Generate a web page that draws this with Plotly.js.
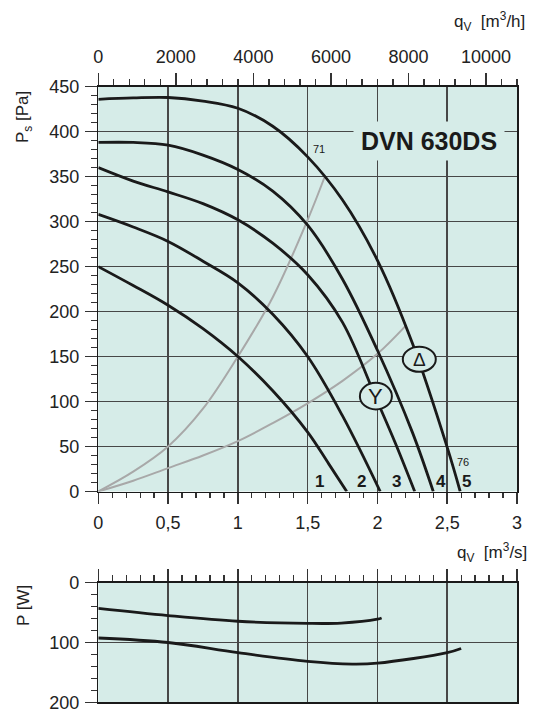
<!DOCTYPE html>
<html>
<head>
<meta charset="utf-8">
<script src="https://cdn.plot.ly/plotly-3.0.1.min.js"></script>
<style>
  html, body { margin: 0; padding: 0; background: #ffffff; }
  #chart { width: 533px; height: 713px; }
</style>
</head>
<body>
<div id="chart"></div>
<script>
// ---- data ----
// fan curves, q [m3/s] vs Ps [Pa]
const c1_q = [0, 0.25, 0.5, 0.75, 1.0, 1.25, 1.5, 1.65, 1.78];
const c1_p = [250, 229, 207, 181, 150, 112, 66, 31, 0];
const c2_q = [0, 0.25, 0.5, 0.75, 1.0, 1.25, 1.5, 1.75, 2.02];
const c2_p = [308, 294, 278, 256, 232, 197, 150, 84, 0];
const c3_q = [0, 0.25, 0.5, 0.75, 1.0, 1.25, 1.5, 1.75, 2.0, 2.125, 2.267];
const c3_p = [360, 345, 333, 320, 302, 276, 241, 188, 100, 55, 0];
const c4_q = [0, 0.25, 0.5, 0.75, 1.0, 1.25, 1.5, 1.75, 2.0, 2.25, 2.4];
const c4_p = [388, 388, 385, 374, 358, 334, 296, 236, 157, 66, 0];
const c5_q = [0, 0.25, 0.5, 0.75, 1.0, 1.25, 1.5, 1.75, 2.0, 2.25, 2.5, 2.593];
const c5_p = [436, 437.5, 438, 434, 426, 406, 372, 324, 257, 165, 49, 0];
// system curves (grey)
const sysA_q = [0, 0.25, 0.5, 0.75, 1.0, 1.25, 1.5, 1.625];
const sysA_p = [0, 22, 50, 92, 150, 216, 302, 351];
const sysB_q = [0, 0.25, 0.5, 0.75, 1.0, 1.25, 1.5, 1.75, 2.0, 2.207];
const sysB_p = [0, 12, 26, 40, 56, 76, 98, 123, 153, 185];
// power curves, q [m3/s] vs P [W]
const powY_q = [0, 0.5, 1.0, 1.5, 1.74, 2.0, 2.03];
const powY_w = [43, 55, 64.5, 68, 67.5, 61, 59];
const powD_q = [0, 0.5, 1.0, 1.5, 1.82, 2.0, 2.5, 2.6];
const powD_w = [92.5, 100, 117, 131.5, 136, 134.5, 117, 110];
// axis ticks
const qs_ticks = [0, 0.5, 1, 1.5, 2, 2.5, 3];
const qs_text = ['0', '0,5', '1', '1,5', '2', '2,5', '3'];
const qh_ticks = [0, 2000, 4000, 6000, 8000, 10000];
const qh_text = ['0', '2000', '4000', '6000', '8000', '10000'];
const ps_ticks = [0, 50, 100, 150, 200, 250, 300, 350, 400, 450];
const pw_ticks = [0, 100, 200];
const curveLabels = ['1', '2', '3', '4', '5'];
const Q_MAX = 3;              // m3/s
const Q_MAX_H = Q_MAX * 3600; // m3/h
const PS_MAX = 450;
const PW_MAX = 200;

// ---- styling ----
const W = 533, H = 713;
const BG = '#d6ece8';
const INK = '#1a1a1a';
const GRID = '#474747';
const FONT = 'Liberation Sans, Arial, Helvetica, sans-serif';
const tickFont = {family: FONT, size: 18, color: '#222'};

const xDom = [98.3 / W, 517 / W];
const yMainDom = [(H - 491.5) / H, (H - 86.7) / H];
const yPowDom = [(H - 702.3) / H, (H - 582.7) / H];

function blackCurve(q, p, xa, ya) {
  return {x: q, y: p, xaxis: xa, yaxis: ya, type: 'scatter', mode: 'lines',
    line: {color: INK, width: 2.8, shape: 'spline', smoothing: 1},
    hoverinfo: 'skip', showlegend: false};
}
function greyCurve(q, p) {
  return {x: q, y: p, xaxis: 'x', yaxis: 'y', type: 'scatter', mode: 'lines',
    line: {color: '#a8a8a8', width: 2, shape: 'spline', smoothing: 1},
    hoverinfo: 'skip', showlegend: false};
}

const traces = [
  greyCurve(sysA_q, sysA_p),
  greyCurve(sysB_q, sysB_p),
  blackCurve(c1_q, c1_p, 'x', 'y'),
  blackCurve(c2_q, c2_p, 'x', 'y'),
  blackCurve(c3_q, c3_p, 'x', 'y'),
  blackCurve(c4_q, c4_p, 'x', 'y'),
  blackCurve(c5_q, c5_p, 'x', 'y'),
  blackCurve(powY_q, powY_w, 'x3', 'y3'),
  blackCurve(powD_q, powD_w, 'x3', 'y3'),
  // helper so the m3/h axis is drawn
  {x: [0, Q_MAX_H], y: [0, 0], xaxis: 'x2', yaxis: 'y', type: 'scatter', mode: 'none',
    hoverinfo: 'skip', showlegend: false}
];

const axLine = {showline: true, linecolor: INK, linewidth: 1.5, zeroline: false};

const layout = {
  width: W, height: H, autosize: false,
  margin: {l: 0, r: 0, t: 0, b: 0, pad: 0},
  paper_bgcolor: '#ffffff', plot_bgcolor: BG,
  font: {family: FONT, color: '#222'},
  showlegend: false,
  xaxis: Object.assign({}, axLine, {
    domain: xDom, anchor: 'y', range: [0, Q_MAX], mirror: true,
    tickmode: 'array', tickvals: qs_ticks, ticktext: qs_text,
    ticks: 'outside', ticklen: 11, tickwidth: 1.5, tickcolor: '#333',
    tickfont: tickFont, ticklabelstandoff: 3,
    showgrid: true, gridcolor: GRID, gridwidth: 1.5,
    minor: {tickmode: 'linear', tick0: 0, dtick: 0.1, ticks: 'outside', ticklen: 5,
            tickwidth: 1.3, tickcolor: '#333', showgrid: false}
  }),
  xaxis2: Object.assign({}, axLine, {
    overlaying: 'x', side: 'top', anchor: 'y', range: [0, Q_MAX_H],
    tickmode: 'array', tickvals: qh_ticks, ticktext: qh_text,
    ticks: 'outside', ticklen: 12, tickwidth: 1.5, tickcolor: '#333',
    tickfont: tickFont, ticklabelstandoff: 3, showgrid: false,
    minor: {tickmode: 'linear', tick0: 0, dtick: 400, ticks: 'outside', ticklen: 6,
            tickwidth: 1.3, tickcolor: '#333', showgrid: false}
  }),
  yaxis: Object.assign({}, axLine, {
    domain: yMainDom, anchor: 'x', range: [0, PS_MAX], mirror: true,
    tickmode: 'array', tickvals: ps_ticks,
    ticks: 'outside', ticklen: 12, tickwidth: 1.5, tickcolor: '#333',
    tickfont: tickFont, ticklabelstandoff: 2,
    showgrid: true, gridcolor: GRID, gridwidth: 1.5,
    minor: {tickmode: 'linear', tick0: 0, dtick: 10, ticks: 'outside', ticklen: 6,
            tickwidth: 1.3, tickcolor: '#333', showgrid: false}
  }),
  xaxis3: Object.assign({}, axLine, {
    domain: xDom, anchor: 'y3', side: 'top', range: [0, Q_MAX], mirror: true,
    tickmode: 'array', tickvals: qs_ticks, showticklabels: false,
    ticks: 'outside', ticklen: 12, tickwidth: 1.5, tickcolor: '#333',
    showgrid: true, gridcolor: GRID, gridwidth: 1.5,
    minor: {tickmode: 'linear', tick0: 0, dtick: 0.1, ticks: 'outside', ticklen: 6,
            tickwidth: 1.3, tickcolor: '#333', showgrid: false}
  }),
  yaxis3: Object.assign({}, axLine, {
    domain: yPowDom, anchor: 'x3', range: [PW_MAX, 0], mirror: true,
    tickmode: 'array', tickvals: pw_ticks,
    ticks: 'outside', ticklen: 12, tickwidth: 1.5, tickcolor: '#333',
    tickfont: tickFont, ticklabelstandoff: 2,
    showgrid: true, gridcolor: GRID, gridwidth: 1.5,
    minor: {tickmode: 'linear', tick0: 0, dtick: 20, ticks: 'outside', ticklen: 6,
            tickwidth: 1.3, tickcolor: '#333', showgrid: false}
  }),
  shapes: [
    {type: 'circle', xref: 'x', yref: 'y', xsizemode: 'pixel', ysizemode: 'pixel',
     xanchor: 2.3, yanchor: 147, x0: -16.5, x1: 16.5, y0: -12.5, y1: 12.5,
     fillcolor: BG, line: {color: INK, width: 2}, layer: 'above'},
    {type: 'circle', xref: 'x', yref: 'y', xsizemode: 'pixel', ysizemode: 'pixel',
     xanchor: 1.989, yanchor: 106, x0: -16, x1: 16, y0: -13.3, y1: 13.3,
     fillcolor: BG, line: {color: INK, width: 2}, layer: 'above'}
  ],
  annotations: []
};

const ann = layout.annotations;
function paperAnn(text, px, py, opts) {
  ann.push(Object.assign({text: text, xref: 'paper', yref: 'paper', x: px / W, y: 1 - py / H,
    showarrow: false, font: {family: FONT, size: 17, color: '#222'}}, opts || {}));
}
function dataAnn(text, x, y, size, bold) {
  ann.push({text: bold ? '<b>' + text + '</b>' : text, xref: 'x', yref: 'y', x: x, y: y,
    showarrow: false, font: {family: FONT, size: size, color: INK}});
}
// axis titles
paperAnn('q<sub>V</sub>\u00a0\u00a0[m<sup>3</sup>/h]', 527, 22, {xanchor: 'right', yanchor: 'middle'});
paperAnn('q<sub>V</sub>\u00a0\u00a0[m<sup>3</sup>/s]', 529, 552, {xanchor: 'right', yanchor: 'middle'});
paperAnn('P<sub>s</sub>\u00a0[Pa]', 24, 117, {textangle: -90, xanchor: 'center', yanchor: 'middle'});
paperAnn('P [W]', 23, 606, {textangle: -90, xanchor: 'center', yanchor: 'middle'});
// model label
ann.push({text: '<b>DVN 630DS</b>', xref: 'x', yref: 'y', x: 2.371, y: 389.4,
  showarrow: false, bgcolor: BG, width: 142, height: 30, borderpad: 4,
  font: {family: FONT, size: 25, color: INK}});
// curve numbers
const labelX = [1.584, 1.883, 2.139, 2.454, 2.64];
curveLabels.forEach((t, i) => dataAnn(t, labelX[i], 11, 17, true));
// small curve-end texts
dataAnn('71', 1.582, 380.6, 11, false);
dataAnn('76', 2.614, 32.8, 11, false);
// star / delta symbols
dataAnn('\u0394', 2.3, 147, 19, false);
dataAnn('Y', 1.989, 106, 22, false);

Plotly.newPlot('chart', traces, layout, {displayModeBar: false, staticPlot: true});
</script>
</body>
</html>
